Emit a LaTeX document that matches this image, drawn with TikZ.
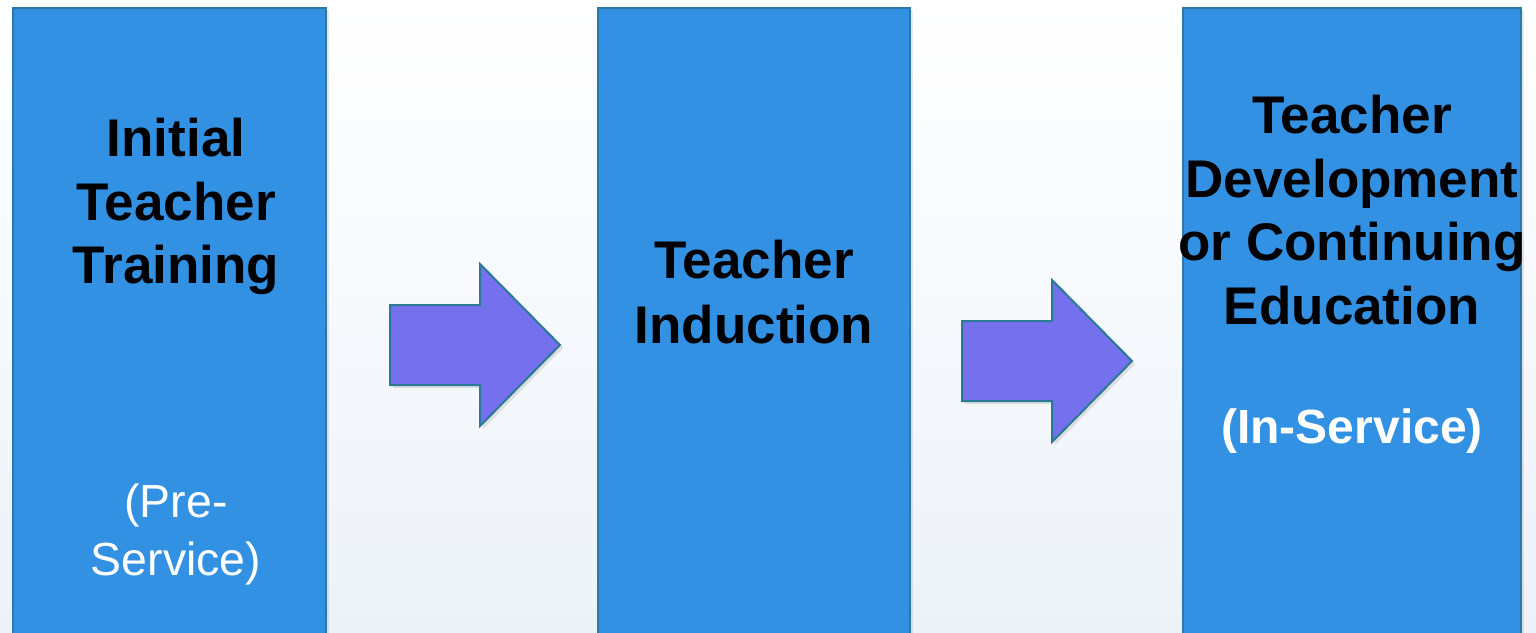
\documentclass[tikz,border=0pt]{standalone}
\usepackage{fontspec}
\setmainfont{Liberation Sans}
\usetikzlibrary{shadows}

\definecolor{stageblue}{HTML}{3391E3}
\definecolor{stageedge}{HTML}{2C78A6}
\definecolor{arrowviolet}{HTML}{7570EE}
\definecolor{arrowedge}{HTML}{2A7A95}
\definecolor{bgbottom}{HTML}{EDF2F9}

\tikzset{
  stagebox/.style={draw=stageedge, line width=1pt, fill=stageblue, inner sep=0pt,
    drop shadow={shadow xshift=1.5pt, shadow yshift=-1pt, opacity=0.18}},
  boldlabel/.style={anchor=north, inner sep=0pt, align=center,
    font=\fontsize{26.5}{31.75}\selectfont\bfseries},
  servicelabel/.style={anchor=north, inner sep=0pt, align=center, text=white},
  blockarrow/.style={draw=arrowedge, line width=1pt, fill=arrowviolet,
    drop shadow={shadow xshift=1.5pt, shadow yshift=-1.5pt, opacity=0.2}}
}

\begin{document}
\begin{tikzpicture}[x=0.5pt, y=-0.5pt]
    % Background
    \useasboundingbox (0,0) rectangle (1536,632);
    \shade[top color=white, bottom color=bgbottom] (0,0) rectangle (1536,632);
    \clip (0,0) rectangle (1536,632);

    % Stages
    \node[stagebox, minimum width=156.5pt, minimum height=326pt] (initial) at (169.5,334) {};
    \node[stagebox, minimum width=156pt, minimum height=326pt] (induction) at (754,334) {};
    \node[stagebox, minimum width=169pt, minimum height=326pt] (development) at (1352,334) {};

    % Arrows between stages
    \foreach \x/\y in {390/345, 962/361}
      \draw[blockarrow] (\x,\y-40) -- ++(90,0) -- ++(0,-41) -- (\x+170,\y)
        -- (\x+90,\y+81) -- ++(0,-41) -- (\x,\y+40) -- cycle;

    % Labels
    \node[boldlabel] (initiallabel) at (176,118) {Initial\\Teacher\\Training};
    \node[servicelabel, font=\fontsize{23.2}{29}\selectfont] (prelabel) at (176,483) {(Pre-\\Service)};
    \node[boldlabel, font=\fontsize{26.5}{32.5}\selectfont\bfseries] (inductionlabel) at (754,240) {Teacher\\Induction};
    \node[boldlabel] (developmentlabel) at (1352,95) {Teacher\\Development\\or Continuing\\Education};
    \node[servicelabel, font=\fontsize{24}{29}\selectfont\bfseries] (inlabel) at (1352,408) {(In-Service)};
\end{tikzpicture}
\end{document}
